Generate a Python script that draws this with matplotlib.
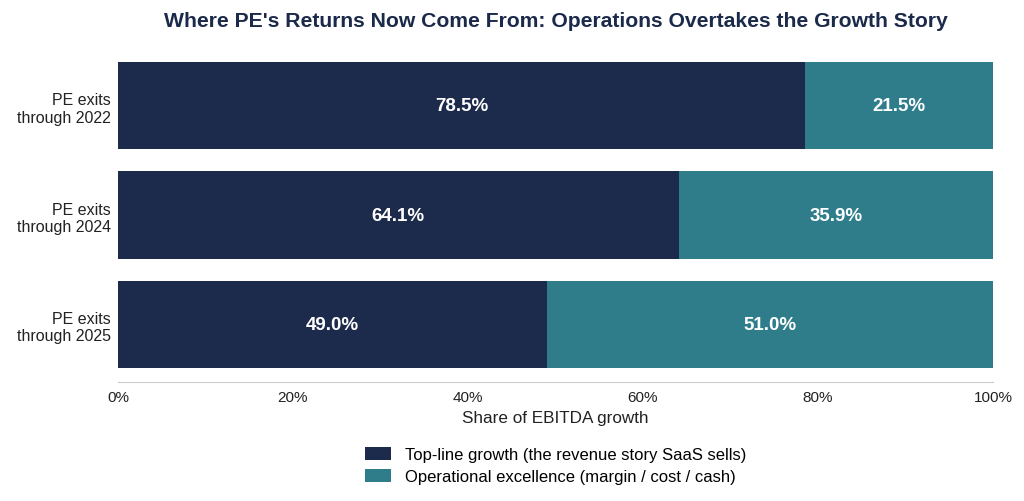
import matplotlib
matplotlib.use("Agg")
import matplotlib.pyplot as plt
from matplotlib.ticker import PercentFormatter

plt.rcParams['font.family'] = ['Liberation Sans', 'DejaVu Sans']

# data
categories = ["PE exits\nthrough 2022", "PE exits\nthrough 2024", "PE exits\nthrough 2025"]
topline = [78.5, 64.1, 49.0]
operational = [21.5, 35.9, 51.0]
series_names = ["Top-line growth (the revenue story SaaS sells)",
                "Operational excellence (margin / cost / cash)"]

C_NAVY = "#1c2a4b"
C_TEAL = "#2f7d8a"
C_TEXT = "#222222"

fig = plt.figure(figsize=(10.24, 5.02), dpi=100)
ax = fig.add_axes([0.1152, 0.237, 0.8545, 0.665])

y = list(range(len(categories)))
b1 = ax.barh(y, topline, height=0.8, color=C_NAVY, label=series_names[0])
b2 = ax.barh(y, operational, left=topline, height=0.8, color=C_TEAL, label=series_names[1])

for bars, vals, lefts in [(b1, topline, [0] * 3), (b2, operational, topline)]:
    for bar, v, l in zip(bars, vals, lefts):
        ax.text(l + v / 2, bar.get_y() + bar.get_height() / 2, f"{v:.1f}%",
                ha='center', va='center', color='white', fontsize=13.5, fontweight='bold')

ax.set_xlim(0, 100)
ax.set_ylim(2.525, -0.525)
ax.set_yticks(y)
ax.set_yticklabels(categories, fontsize=11.5, color=C_TEXT)
ax.xaxis.set_major_formatter(PercentFormatter(decimals=0))
ax.set_xticks([0, 20, 40, 60, 80, 100])
ax.tick_params(axis='x', length=0, labelsize=11, colors=C_TEXT, pad=6)
ax.tick_params(axis='y', length=0, pad=5)
for s in ['top', 'right', 'left']:
    ax.spines[s].set_visible(False)
ax.spines['bottom'].set_color('#cccccc')
ax.set_xlabel("Share of EBITDA growth", fontsize=12.3, color=C_TEXT, labelpad=4)

ax.set_title("Where PE's Returns Now Come From: Operations Overtakes the Growth Story",
             fontsize=15.2, fontweight='bold', color="#1b2a4a", pad=16)

ax.legend(loc='upper center', bbox_to_anchor=(0.5, -0.15), frameon=False,
          fontsize=12, handlelength=1.6, handleheight=0.8, labelspacing=0.4)

fig.savefig("out.png", dpi=100, facecolor='white')
